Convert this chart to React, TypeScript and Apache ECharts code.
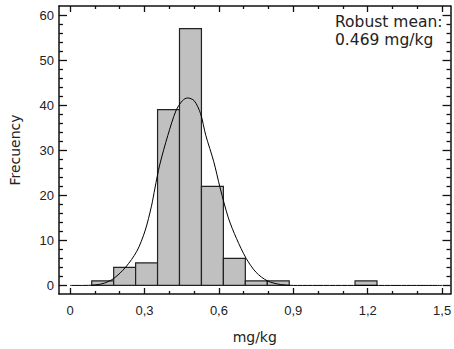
import React, { useEffect, useRef } from "react";
import * as echarts from "echarts";

// Histogram bins (mg/kg) and counts
const binLow = [0.087, 0.1755, 0.264, 0.3525, 0.441, 0.5295, 0.618, 0.7065, 0.795, 1.149];
const binHigh = [0.1755, 0.264, 0.3525, 0.441, 0.5295, 0.618, 0.7065, 0.795, 0.8835, 1.2375];
const counts = [1, 4, 5, 39, 57, 22, 6, 1, 1, 1];

// Fitted curve
const curveX = [0, 0.05, 0.1, 0.138, 0.177, 0.223, 0.269, 0.302, 0.328, 0.342, 0.361, 0.394, 0.427, 0.453, 0.473, 0.5, 0.526, 0.547, 0.579, 0.605, 0.638, 0.671, 0.71, 0.75, 0.796, 0.849, 0.9, 1.5];
const curveY = [0, 0, 0.1, 0.5, 1.6, 4.0, 7.6, 12.1, 17.6, 21.6, 26.7, 33.3, 38.8, 41, 41.6, 41, 38.1, 33.3, 27.5, 21.6, 15.0, 10.4, 6.0, 2.9, 1.0, 0.2, 0, 0];

// Ticks
const xMajor = [0, 0.3, 0.6, 0.9, 1.2, 1.5];
const xMinor = [0.1, 0.2, 0.4, 0.5, 0.7, 0.8, 1.0, 1.1, 1.3, 1.4];
const yMajor = [0, 10, 20, 30, 40, 50, 60];
const yMinor = [2, 4, 6, 8, 12, 14, 16, 18, 22, 24, 26, 28, 32, 34, 36, 38, 42, 44, 46, 48, 52, 54, 56, 58];

const annotationLine1 = "Robust mean:";
const annotationLine2 = "0.469 mg/kg";
const xName = "mg/kg";
const yName = "Frecuency";

const X_MIN = -0.045;
const X_MAX = 1.534;
const Y_MIN = -1.9;
const Y_MAX = 62;

export default function App() {
  const ref = useRef<HTMLDivElement>(null);
  useEffect(() => {
    document.body.style.margin = "0";
    if (!ref.current) return;
    const chart = echarts.init(ref.current, null, { renderer: "svg" });
    const lineStyle = { color: "#111", width: 1.5 };
    const labelFont = { fontFamily: "Liberation Sans", fontSize: 13, color: "#222" };
    const mkX = (pos: string, vals: number[], len: number, labels: boolean, showLine: boolean) => ({
      type: "value",
      position: pos,
      min: X_MIN,
      max: X_MAX,
      axisLine: { show: showLine, onZero: false, lineStyle },
      axisTick: { show: true, inside: true, length: len, customValues: vals, lineStyle: { color: "#111", width: 1.3 } },
      axisLabel: labels
        ? { show: true, customValues: vals, margin: 10, formatter: (v: number) => String(v).replace(".", ","), ...labelFont }
        : { show: false },
      splitLine: { show: false },
      name: labels ? xName : "",
      nameLocation: "middle",
      nameGap: 36,
      nameTextStyle: { fontFamily: "DejaVu Sans", fontSize: 14, color: "#222" },
    });
    const mkY = (pos: string, vals: number[], len: number, labels: boolean, showLine: boolean) => ({
      type: "value",
      position: pos,
      min: Y_MIN,
      max: Y_MAX,
      axisLine: { show: showLine, onZero: false, lineStyle },
      axisTick: { show: true, inside: true, length: len, customValues: vals, lineStyle: { color: "#111", width: 1.3 } },
      axisLabel: labels
        ? { show: true, customValues: vals, margin: 5, ...labelFont }
        : { show: false },
      splitLine: { show: false },
      name: labels ? yName : "",
      nameLocation: "middle",
      nameGap: 37,
      nameTextStyle: { fontFamily: "DejaVu Sans", fontSize: 14, color: "#222" },
    });

    const bars = binLow.map((lo, i) => [lo, binHigh[i], counts[i]]);
    const curve = curveX.map((x, i) => [x, curveY[i]]);

    chart.setOption({
      animation: false,
      grid: { left: 54, top: 6, width: 399, height: 291, containLabel: false },
      xAxis: [
        mkX("bottom", xMajor, 6, true, true),
        mkX("bottom", xMinor, 3, false, false),
        mkX("top", xMajor, 6, false, true),
        mkX("top", xMinor, 3, false, false),
      ],
      yAxis: [
        mkY("left", yMajor, 8, true, true),
        mkY("left", yMinor, 4, false, false),
        mkY("right", yMajor, 8, false, true),
        mkY("right", yMinor, 4, false, false),
      ],
      series: [
        {
          type: "custom",
          xAxisIndex: 0,
          yAxisIndex: 0,
          data: bars,
          renderItem: (params: any, api: any) => {
            const lo = api.value(0);
            const hi = api.value(1);
            const c = api.value(2);
            const p1 = api.coord([lo, c]);
            const p2 = api.coord([hi, 0]);
            return {
              type: "rect",
              shape: { x: p1[0], y: p1[1], width: p2[0] - p1[0], height: p2[1] - p1[1] },
              style: { fill: "#c0c0c0", stroke: "#222", lineWidth: 1.2 },
            };
          },
          encode: { x: [0, 1], y: 2 },
        },
        {
          type: "line",
          xAxisIndex: 0,
          yAxisIndex: 0,
          data: curve,
          smooth: 0.3,
          showSymbol: false,
          lineStyle: { color: "#000", width: 1 },
        },
      ],
      graphic: [
        {
          type: "text",
          left: 335,
          top: 14,
          style: { text: annotationLine1, font: "15.5px 'DejaVu Sans'", fill: "#222" },
        },
        {
          type: "text",
          left: 335,
          top: 32,
          style: { text: annotationLine2, font: "15.5px 'DejaVu Sans'", fill: "#222" },
        },
      ],
    });
    return () => chart.dispose();
  }, []);
  return <div ref={ref} style={{ width: 454, height: 349 }} />;
}
